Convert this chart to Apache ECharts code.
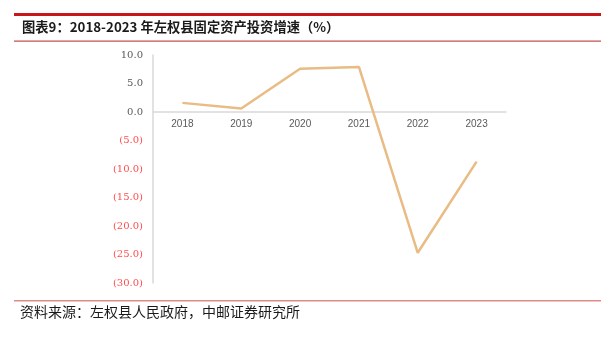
<!DOCTYPE html>
<html>
<head>
<meta charset="utf-8">
<script src="https://cdn.jsdelivr.net/npm/echarts@6/dist/echarts.min.js"></script>
<style>
  html, body { margin: 0; padding: 0; background: #fff; }
  #chart { width: 601px; height: 338px; }
</style>
</head>
<body>
<div id="chart"></div>
<script>
// Fixed-asset investment growth, Zuoquan County (%)
const years = ['2018', '2019', '2020', '2021', '2022', '2023'];
const growth = [1.6, 0.6, 7.6, 7.9, -24.7, -8.7];

const titleText = '图表9：2018-2023 年左权县固定资产投资增速（%）';
const sourceText = '资料来源：左权县人民政府，中邮证券研究所';

const gridTop = 55, gridBottom = 55, chartH = 338;
const yMin = -30, yMax = 10;
// pixel distance from the bottom of the plot to the zero line
const plotH = chartH - gridTop - gridBottom;
const zeroShift = plotH * (0 - yMin) / (yMax - yMin);

const chart = echarts.init(document.getElementById('chart'));

// Negative values shown in accounting style: (5.0)
function fmtTick(v) {
  if (v < 0) return '{neg|(' + Math.abs(v).toFixed(1) + ')}';
  return '{pos|' + v.toFixed(1) + '}';
}

chart.setOption({
  animation: false,
  backgroundColor: '#ffffff',
  grid: { left: 153, right: 95, top: gridTop, bottom: gridBottom },
  xAxis: {
    type: 'category',
    data: years,
    boundaryGap: true,
    position: 'bottom',
    offset: -zeroShift,
    axisLine: { onZero: false, lineStyle: { color: '#d9d9d9', width: 1.5 } },
    axisTick: { show: false },
    axisLabel: { color: '#595959', fontSize: 10, fontFamily: 'Liberation Sans', margin: 7 }
  },
  yAxis: {
    type: 'value',
    min: yMin, max: yMax, interval: 5,
    axisLine: { show: true, lineStyle: { color: '#d9d9d9', width: 1.5 } },
    axisTick: { show: false },
    splitLine: { show: false },
    axisLabel: {
      margin: 10,
      formatter: fmtTick,
      rich: {
        pos: { color: '#595959', fontSize: 10, fontFamily: 'DejaVu Serif' },
        neg: { color: '#ff4d4d', fontSize: 10, fontFamily: 'DejaVu Serif' }
      }
    }
  },
  series: [{
    type: 'line',
    data: growth,
    symbol: 'none',
    lineStyle: { color: '#e8bc84', width: 2.5 }
  }],
  graphic: [
    { type: 'rect', shape: { x: 14, y: 13, width: 587, height: 3 }, style: { fill: '#c8161d' } },
    { type: 'text', left: 22, top: 20,
      style: { text: titleText, fill: '#1a1a1a', font: 'bold 13.3px "Noto Sans CJK SC"' } },
    { type: 'rect', shape: { x: 14, y: 40.5, width: 587, height: 1.2 }, style: { fill: '#c0504d' } },
    { type: 'rect', shape: { x: 14, y: 300, width: 587, height: 1.5 }, style: { fill: '#e08a8a' } },
    { type: 'text', left: 20, top: 305,
      style: { text: sourceText, fill: '#1a1a1a', font: '14px "Noto Sans CJK SC"' } }
  ]
});
</script>
</body>
</html>
